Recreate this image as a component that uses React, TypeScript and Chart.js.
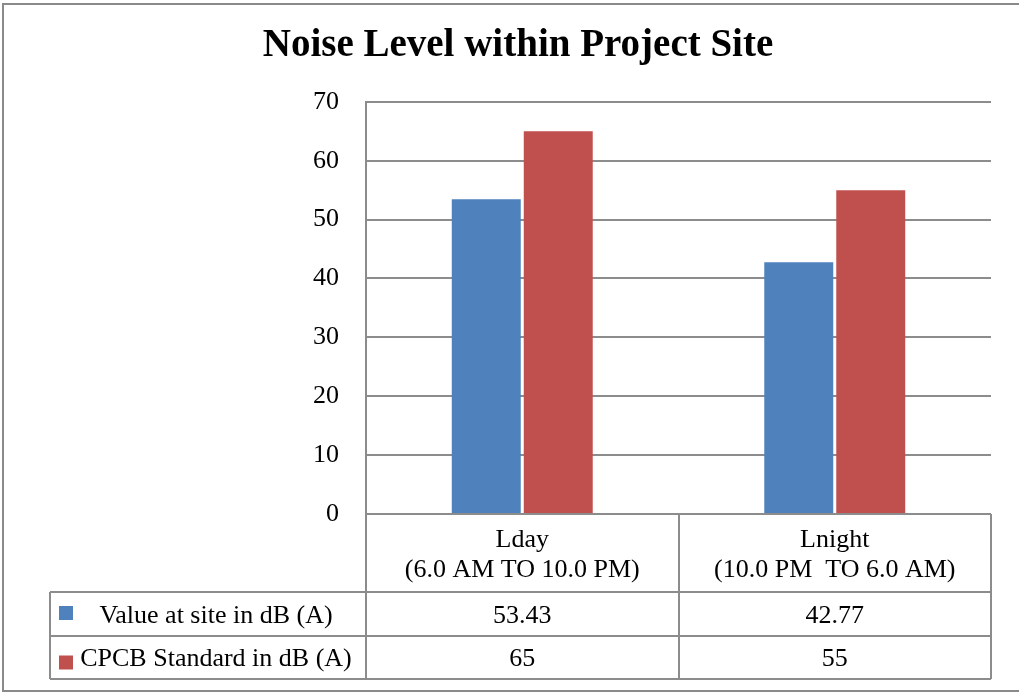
import React, { useEffect, useRef } from 'react';
import { Chart, registerables } from 'chart.js';

Chart.register(...registerables);

// ---- data ----
const chartTitle = 'Noise Level within Project Site';
const categories: string[][] = [
  ['Lday', '(6.0 AM TO 10.0 PM)'],
  ['Lnight', '(10.0 PM  TO 6.0 AM)'],
];
const seriesNames = ['Value at site in dB (A)', 'CPCB Standard in dB (A)'];
const siteValues = [53.43, 42.77];
const cpcbValues = [65, 55];
const yTicks = [0, 10, 20, 30, 40, 50, 60, 70];

// ---- styles ----
const COLORS = ['#4F81BD', '#C0504D'];
const GRID = '#8c8c8c';
const FONT = '"Liberation Serif", "Times New Roman", serif';

const tablePlugin = {
  id: 'dataTable',
  afterDraw(chart: any) {
    const { ctx, chartArea } = chart;
    const left = chartArea.left;
    const right = chartArea.right;
    const top = chartArea.bottom;
    const n = chart.data.labels.length;
    const colW = (right - left) / n;
    const headerH = 78;
    const rowHs = [44, 43];
    const legendLeft = 50;

    ctx.save();
    // outer border
    ctx.strokeStyle = '#8a8a8a';
    ctx.lineWidth = 2;
    ctx.beginPath();
    ctx.moveTo(1030, 4);
    ctx.lineTo(3, 4);
    ctx.lineTo(3, 691);
    ctx.lineTo(1030, 691);
    ctx.stroke();

    // table lines
    ctx.strokeStyle = GRID;
    ctx.lineWidth = 2;
    const rowTops: number[] = [];
    let y = top + headerH;
    chart.data.datasets.forEach((_: any, i: number) => {
      rowTops.push(y);
      y += rowHs[i] ?? 43;
    });
    const tableBottom = y;
    ctx.beginPath();
    for (let i = 0; i <= n; i++) {
      const x = Math.round(left + i * colW);
      ctx.moveTo(x, top);
      ctx.lineTo(x, tableBottom);
    }
    ctx.moveTo(legendLeft, rowTops[0]);
    ctx.lineTo(legendLeft, tableBottom);
    rowTops.forEach((ry) => {
      ctx.moveTo(legendLeft, ry);
      ctx.lineTo(right, ry);
    });
    ctx.moveTo(legendLeft, tableBottom);
    ctx.lineTo(right, tableBottom);
    ctx.stroke();

    // header labels
    ctx.fillStyle = '#000';
    ctx.font = `26px ${FONT}`;
    ctx.textAlign = 'center';
    ctx.textBaseline = 'alphabetic';
    const xs = chart.scales.x;
    chart.data.labels.forEach((lab: string[], i: number) => {
      const cx = xs.getPixelForValue(i);
      lab.forEach((line, j) => {
        ctx.fillText(line, cx, top + 33 + j * 30);
      });
    });

    // rows
    chart.data.datasets.forEach((ds: any, r: number) => {
      const ry = rowTops[r];
      const rh = rowHs[r] ?? 43;
      const base = ry + rh * 0.7;
      // legend key
      ctx.fillStyle = ds.backgroundColor;
      ctx.fillRect(59, ry + rh / 2 - 8 + r * 6, 14, 14);
      ctx.fillStyle = '#000';
      ctx.textAlign = 'center';
      ctx.fillText(ds.label, 216, base);
      ds.data.forEach((v: number, i: number) => {
        ctx.fillText(String(v), xs.getPixelForValue(i), base);
      });
    });
    ctx.restore();
  },
};

export default function App() {
  const ref = useRef<HTMLCanvasElement>(null);
  useEffect(() => {
    const chart = new Chart(ref.current as HTMLCanvasElement, {
      type: 'bar',
      data: {
        labels: categories as any,
        datasets: [
          {
            label: seriesNames[0],
            data: siteValues,
            backgroundColor: COLORS[0],
            borderWidth: 0,
            categoryPercentage: 0.4608,
            barPercentage: 0.958,
          },
          {
            label: seriesNames[1],
            data: cpcbValues,
            backgroundColor: COLORS[1],
            borderWidth: 0,
            categoryPercentage: 0.4608,
            barPercentage: 0.958,
          },
        ],
      },
      options: {
        animation: false,
        responsive: false,
        layout: { padding: { top: 0, left: 45, right: 28, bottom: 178 } },
        plugins: {
          legend: { display: false },
          tooltip: { enabled: false },
          title: {
            display: true,
            text: chartTitle,
            color: '#000',
            font: { family: FONT, size: 39, weight: 'bold', lineHeight: 1.2 },
            padding: { top: 23, bottom: 32 },
          },
        },
        scales: {
          x: { display: false },
          y: {
            min: 0,
            max: 70,
            afterBuildTicks: (s: any) => {
              s.ticks = yTicks.map((v) => ({ value: v }));
            },
            afterFit: (s: any) => {
              s.width = 321;
            },
            ticks: {
              padding: 27,
              color: '#000',
              font: { family: FONT, size: 26 },
            },
            grid: { color: GRID, lineWidth: 2, drawTicks: false },
            border: { display: true, color: GRID, width: 2 },
          },
        },
      },
      plugins: [tablePlugin],
    } as any);
    return () => chart.destroy();
  }, []);
  return (
    <div style={{ position: 'fixed', left: 0, top: 0, width: 1019, height: 692, background: '#fff' }}>
      <canvas ref={ref} width={1019} height={692} style={{ display: 'block' }} />
    </div>
  );
}
